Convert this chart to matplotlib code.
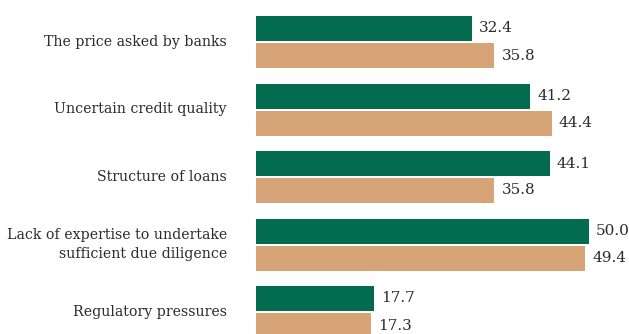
import matplotlib
matplotlib.use("Agg")
import matplotlib.pyplot as plt
import numpy as np

categories = [
    "The price asked by banks",
    "Uncertain credit quality",
    "Structure of loans",
    "Lack of expertise to undertake\nsufficient due diligence",
    "Regulatory pressures",
]
series_a = [32.4, 41.2, 44.1, 50.0, 17.7]
series_b = [35.8, 44.4, 35.8, 49.4, 17.3]

green = "#036B4E"
tan = "#D6A476"
text_color = "#2B2B2B"

plt.rcParams["font.family"] = ["DejaVu Serif"]

W, H = 629, 334
fig = plt.figure(figsize=(W / 100, H / 100), dpi=100)
left_px = 256
px_per_unit = 6.66
xmax = 55
ax = fig.add_axes([left_px / W, 0, xmax * px_per_unit / W, 1])

pitch = 67.5
bar_h = 25 / pitch
offset = 13.5 / pitch
y = np.arange(len(categories))

ax.barh(y - offset, series_a, height=bar_h, color=green)
ax.barh(y + offset, series_b, height=bar_h, color=tan)

for yi, a, b in zip(y, series_a, series_b):
    ax.text(a + 7 / px_per_unit, yi - offset, f"{a:.1f}", va="center", ha="left",
            fontsize=11, color=text_color)
    ax.text(b + 7 / px_per_unit, yi + offset, f"{b:.1f}", va="center", ha="left",
            fontsize=11, color=text_color)
    ax.text(-29 / px_per_unit, yi, categories[yi], va="center", ha="right",
            fontsize=10.15, color=text_color, linespacing=1.4)

ax.set_xlim(0, xmax)
ax.set_ylim((H - 42) / pitch, -42 / pitch)
ax.axis("off")

fig.savefig("out.png", dpi=100)
